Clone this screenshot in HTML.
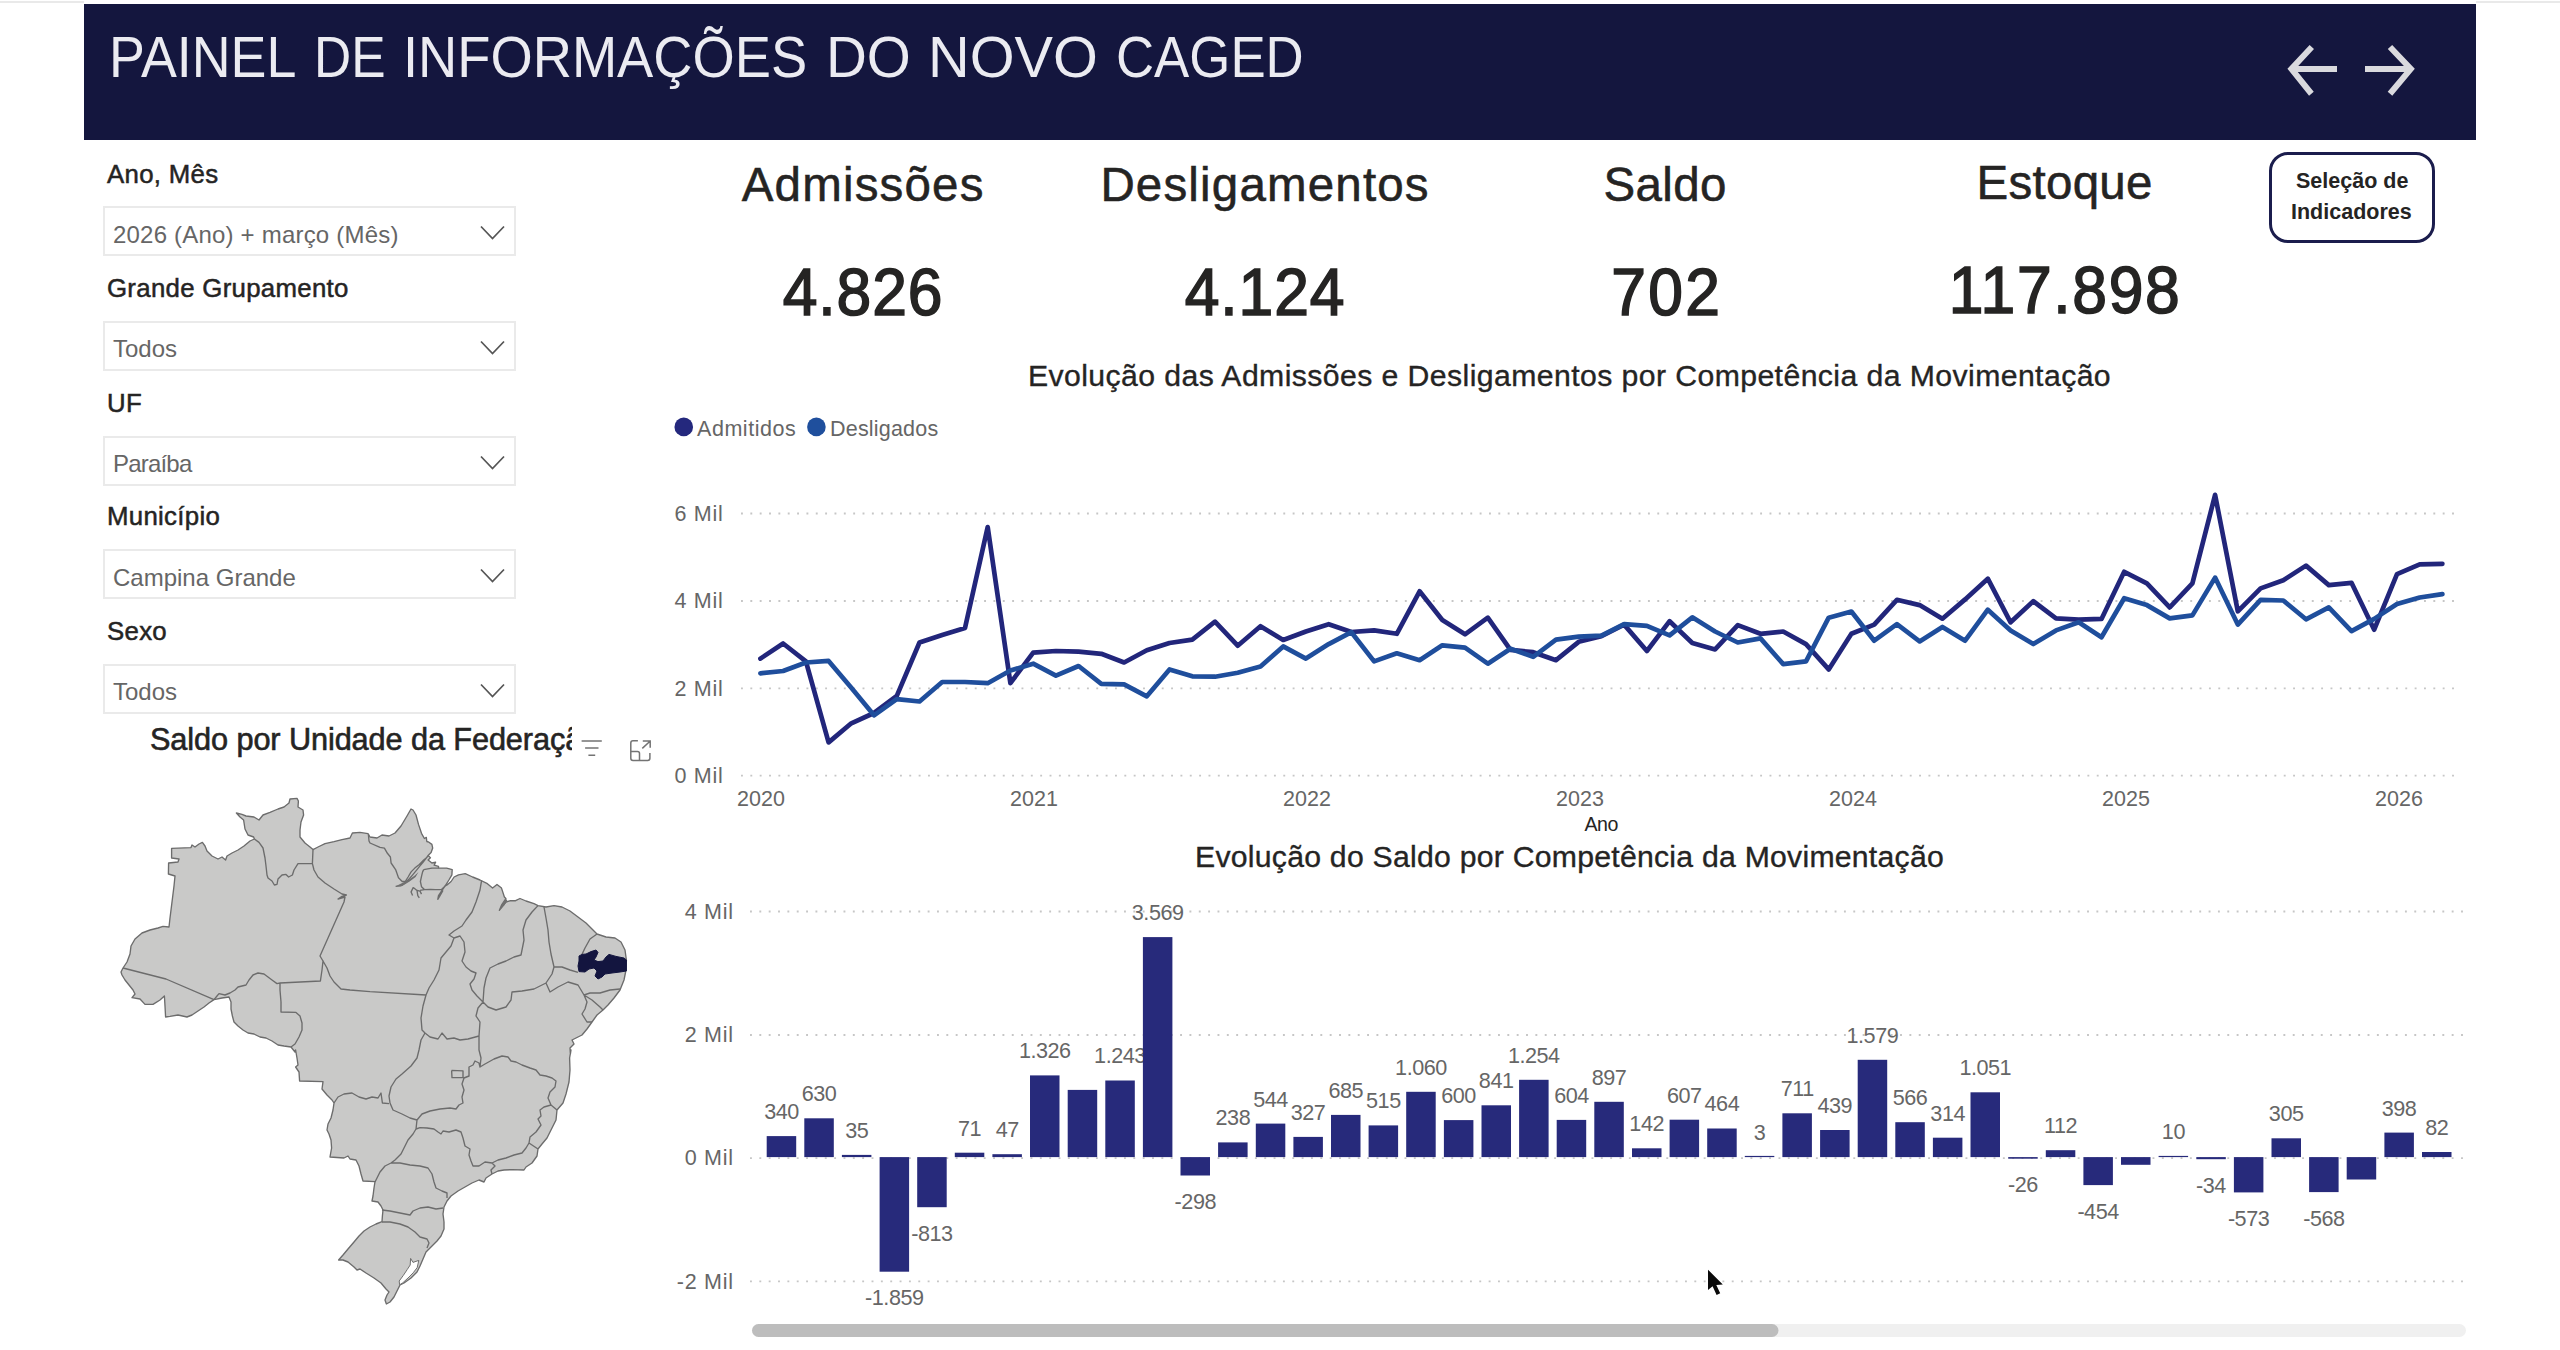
<!DOCTYPE html>
<html lang="pt-BR"><head><meta charset="utf-8"><title>Painel de Informações do Novo CAGED</title>
<style>
html,body{margin:0;padding:0;background:#fff;}
body{width:2560px;height:1350px;position:relative;overflow:hidden;font-family:"Liberation Sans",sans-serif;}
.t{position:absolute;white-space:nowrap;line-height:1;}
.din{letter-spacing:0;}
.abs{position:absolute;}
.dd{position:absolute;left:103px;width:409px;height:46px;border:2px solid #eaeaea;background:#fff;}
svg{position:absolute;left:0;top:0;overflow:visible;}
</style></head><body>

<div class="abs" style="left:0;top:1px;width:84px;height:2px;background:#e9e9e9"></div>
<div class="abs" style="left:2476px;top:1px;width:84px;height:2px;background:#e9e9e9"></div>
<div class="abs" style="left:84px;top:3.5px;width:2392px;height:136px;background:#14163e"></div>
<div class="hdrtxt">
<div class="t hdr" style="left:109.07px;top:29.43px;font-size:57.5px;color:#ebebf1;transform:scaleX(0.936);transform-origin:0 0;">PAINEL </div>
<div class="t hdr" style="left:313.52px;top:29.43px;font-size:57.5px;color:#ebebf1;transform:scaleX(0.8958);transform-origin:0 0;">DE </div>
<div class="t hdr" style="left:402.78px;top:29.43px;font-size:57.5px;color:#ebebf1;transform:scaleX(0.9442);transform-origin:0 0;">INFORMAÇÕES </div>
<div class="t hdr" style="left:826.08px;top:29.43px;font-size:57.5px;color:#ebebf1;transform:scaleX(0.9842);transform-origin:0 0;">DO </div>
<div class="t hdr" style="left:928.48px;top:29.43px;font-size:57.5px;color:#ebebf1;transform:scaleX(1.0031);transform-origin:0 0;">NOVO </div>
<div class="t hdr" style="left:1115.85px;top:29.43px;font-size:57.5px;color:#ebebf1;transform:scaleX(0.9181);transform-origin:0 0;">CAGED </div>
</div>
<svg width="2560" height="1350" viewBox="0 0 2560 1350">
<g fill="none" stroke="#dadade" stroke-width="6" stroke-linecap="butt" stroke-linejoin="miter">
<path d="M2337 68.9H2291.4M2311.8 47L2291.4 68.9L2311.4 93.75"/>
<path d="M2365 68.9H2410.8M2390 47L2410.8 68.9L2390 93.75"/>
</g></svg>
<div class="abs" style="left:2269px;top:152px;width:160px;height:85px;border:3px solid #1b1d4d;border-radius:19px;background:#fff"></div>
<div class="t btn1" style="left:2296px;top:170.80px;font-size:21.5px;color:#252423;font-weight:bold;">Seleção de</div>
<div class="t btn2" style="left:2291px;top:202.30px;font-size:21.5px;color:#252423;font-weight:bold;">Indicadores</div>
<div class="t din flab" style="left:107px;top:161.56px;font-size:25.8px;color:#252423;letter-spacing:0.3px;-webkit-text-stroke:0.5px #252423;">Ano, Mês</div>
<div class="t din flab" style="left:107px;top:275.86px;font-size:25.8px;color:#252423;letter-spacing:0.3px;-webkit-text-stroke:0.5px #252423;">Grande Grupamento</div>
<div class="t din flab" style="left:107px;top:390.86px;font-size:25.8px;color:#252423;letter-spacing:0.3px;-webkit-text-stroke:0.5px #252423;">UF</div>
<div class="t din flab" style="left:107px;top:503.76px;font-size:25.8px;color:#252423;letter-spacing:0.3px;-webkit-text-stroke:0.5px #252423;">Município</div>
<div class="t din flab" style="left:107px;top:619.46px;font-size:25.8px;color:#252423;letter-spacing:0.3px;-webkit-text-stroke:0.5px #252423;">Sexo</div>
<div class="dd" style="top:206px"></div>
<div class="t ddv" style="left:113px;top:222.78px;font-size:24px;color:#666666;letter-spacing:0.2px;">2026 (Ano) + março (Mês)</div>
<svg width="2560" height="1350"><path d="M481 226.5L492.5 238.5L504 226.5" fill="none" stroke="#555" stroke-width="1.7"/></svg>
<div class="dd" style="top:321px"></div>
<div class="t ddv" style="left:113px;top:337.28px;font-size:24px;color:#666666;">Todos</div>
<svg width="2560" height="1350"><path d="M481 341.5L492.5 353.5L504 341.5" fill="none" stroke="#555" stroke-width="1.7"/></svg>
<div class="dd" style="top:436px"></div>
<div class="t ddv" style="left:113px;top:452.38px;font-size:24px;color:#666666;letter-spacing:-0.8px;">Paraíba</div>
<svg width="2560" height="1350"><path d="M481 456.5L492.5 468.5L504 456.5" fill="none" stroke="#555" stroke-width="1.7"/></svg>
<div class="dd" style="top:549px"></div>
<div class="t ddv" style="left:113px;top:565.58px;font-size:24px;color:#666666;">Campina Grande</div>
<svg width="2560" height="1350"><path d="M481 569.5L492.5 581.5L504 569.5" fill="none" stroke="#555" stroke-width="1.7"/></svg>
<div class="dd" style="top:664px"></div>
<div class="t ddv" style="left:113px;top:680.08px;font-size:24px;color:#666666;">Todos</div>
<svg width="2560" height="1350"><path d="M481 684.5L492.5 696.5L504 684.5" fill="none" stroke="#555" stroke-width="1.7"/></svg>
<div class="t din kl" style="left:562.6px;width:600px;text-align:center;top:161.29px;font-size:47.5px;-webkit-text-stroke:0.55px #252423;letter-spacing:1.17px;padding-left:1.17px;box-sizing:border-box;color:#252423">Admissões</div>
<div class="t kv" style="left:562.6px;width:600px;text-align:center;top:259.43px;font-size:66px;color:#252423"><span style="display:inline-block;transform:scaleX(.945);letter-spacing:1px;margin-left:1px;-webkit-text-stroke:1.6px #252423">4.826</span></div>
<div class="t din kl" style="left:964.5px;width:600px;text-align:center;top:161.29px;font-size:47.5px;-webkit-text-stroke:0.55px #252423;letter-spacing:1.17px;padding-left:1.17px;box-sizing:border-box;color:#252423">Desligamentos</div>
<div class="t kv" style="left:964.5px;width:600px;text-align:center;top:259.43px;font-size:66px;color:#252423"><span style="display:inline-block;transform:scaleX(.945);letter-spacing:1px;margin-left:1px;-webkit-text-stroke:1.6px #252423">4.124</span></div>
<div class="t din kl" style="left:1365px;width:600px;text-align:center;top:161.29px;font-size:47.5px;-webkit-text-stroke:0.55px #252423;letter-spacing:0.37px;padding-left:0.37px;box-sizing:border-box;color:#252423">Saldo</div>
<div class="t kv" style="left:1365px;width:600px;text-align:center;top:259.43px;font-size:66px;color:#252423"><span style="display:inline-block;transform:scaleX(.945);letter-spacing:2.4px;margin-left:2.4px;-webkit-text-stroke:1.6px #252423">702</span></div>
<div class="t din kl" style="left:1764.5px;width:600px;text-align:center;top:159.29px;font-size:47.5px;-webkit-text-stroke:0.55px #252423;letter-spacing:0.28px;padding-left:0.28px;box-sizing:border-box;color:#252423">Estoque</div>
<div class="t kv" style="left:1764.5px;width:600px;text-align:center;top:257.43px;font-size:66px;color:#252423"><span style="display:inline-block;transform:scaleX(.945);letter-spacing:1.8px;margin-left:1.8px;-webkit-text-stroke:1.6px #252423">117.898</span></div>
<div class="t din ct1" style="left:869.5px;width:1400px;text-align:center;top:360.64px;font-size:30.2px;letter-spacing:0.42px;-webkit-text-stroke:0.35px #252423;color:#252423">Evolução das Admissões e Desligamentos por Competência da Movimentação</div>
<div class="t din ct2" style="left:1069.5px;width:1000px;text-align:center;top:841.54px;font-size:30.2px;letter-spacing:0.25px;-webkit-text-stroke:0.35px #252423;color:#252423">Evolução do Saldo por Competência da Movimentação</div>
<div class="t din mt" style="left:150px;width:422px;overflow:hidden;top:724.61px;height:40px;font-size:30.7px;-webkit-text-stroke:0.6px #252423;letter-spacing:-0.1px;color:#252423">Saldo por Unidade da Federação</div>
<svg width="2560" height="1350" viewBox="0 0 2560 1350" font-family="Liberation Sans, sans-serif">
<circle cx="683.75" cy="426.9" r="9.3" fill="#24287d"/><circle cx="816.4" cy="426.9" r="9.3" fill="#1f4f9d"/>
<text x="697" y="435.8" font-size="21.5" letter-spacing="0.55" fill="#666666">Admitidos</text><text x="830" y="435.8" font-size="21.5" letter-spacing="0.2" fill="#666666">Desligados</text>
<line x1="741" x2="2455" y1="513.5" y2="513.5" stroke="#c6c6c6" stroke-width="1.8" stroke-dasharray="1.9 7.45"/>
<text x="723.6" y="520.7" font-size="21.5" letter-spacing="0.75" fill="#666666" text-anchor="end">6 Mil</text>
<line x1="741" x2="2455" y1="601" y2="601" stroke="#c6c6c6" stroke-width="1.8" stroke-dasharray="1.9 7.45"/>
<text x="723.6" y="608.2" font-size="21.5" letter-spacing="0.75" fill="#666666" text-anchor="end">4 Mil</text>
<line x1="741" x2="2455" y1="688.3" y2="688.3" stroke="#c6c6c6" stroke-width="1.8" stroke-dasharray="1.9 7.45"/>
<text x="723.6" y="695.5" font-size="21.5" letter-spacing="0.75" fill="#666666" text-anchor="end">2 Mil</text>
<line x1="741" x2="2455" y1="775.6" y2="775.6" stroke="#c6c6c6" stroke-width="1.8" stroke-dasharray="1.9 7.45"/>
<text x="723.6" y="782.8000000000001" font-size="21.5" letter-spacing="0.75" fill="#666666" text-anchor="end">0 Mil</text>
<text x="761" y="805.7" font-size="21.5" fill="#666666" text-anchor="middle">2020</text>
<text x="1034" y="805.7" font-size="21.5" fill="#666666" text-anchor="middle">2021</text>
<text x="1307" y="805.7" font-size="21.5" fill="#666666" text-anchor="middle">2022</text>
<text x="1580" y="805.7" font-size="21.5" fill="#666666" text-anchor="middle">2023</text>
<text x="1853" y="805.7" font-size="21.5" fill="#666666" text-anchor="middle">2024</text>
<text x="2126" y="805.7" font-size="21.5" fill="#666666" text-anchor="middle">2025</text>
<text x="2399" y="805.7" font-size="21.5" fill="#666666" text-anchor="middle">2026</text>
<text x="1601.3" y="831" font-size="19.6" letter-spacing="-0.4" fill="#252423" text-anchor="middle">Ano</text>
<polyline points="760.4,658.6 783.1,643.5 805.9,661.4 828.6,742.4 851.3,723.3 874.0,713.0 896.8,695.8 919.5,642.5 942.2,635.0 965.0,628.1 987.7,527.1 1010.4,683.2 1033.2,652.6 1055.9,651.0 1078.6,651.7 1101.3,653.8 1124.1,662.5 1146.8,650.3 1169.5,643.0 1192.3,639.6 1215.0,621.6 1237.7,645.7 1260.5,626.2 1283.2,640.0 1305.9,631.5 1328.7,624.2 1351.4,632.0 1374.1,630.4 1396.8,633.8 1419.6,591.3 1442.3,620.0 1465.0,634.3 1487.8,617.7 1510.5,649.9 1533.2,652.2 1556.0,660.2 1578.7,641.8 1601.4,636.1 1624.1,624.6 1646.9,651.0 1669.6,621.2 1692.3,643.0 1715.1,649.4 1737.8,625.1 1760.5,633.8 1783.2,631.5 1806.0,644.1 1828.7,669.4 1851.4,633.8 1874.2,624.6 1896.9,599.8 1919.6,605.1 1942.4,618.7 1965.1,599.4 1987.8,578.7 2010.6,622.3 2033.3,601.2 2056.0,618.4 2078.7,619.6 2101.5,618.9 2124.2,571.8 2146.9,583.3 2169.7,607.4 2192.4,583.3 2215.1,494.9 2237.8,611.3 2260.6,588.4 2283.3,580.3 2306.0,565.6 2328.8,585.1 2351.5,582.8 2374.2,629.7 2397.0,574.1 2419.7,564.3 2442.4,563.8" fill="none" stroke="#22267b" stroke-width="4.7" stroke-linejoin="round" stroke-linecap="round"/>
<polyline points="760.4,673.3 783.1,671.0 805.9,662.5 828.6,660.9 851.3,687.8 874.0,715.3 896.8,699.2 919.5,701.5 942.2,682.0 965.0,682.0 987.7,683.2 1010.4,670.5 1033.2,663.7 1055.9,675.6 1078.6,666.0 1101.3,683.9 1124.1,684.3 1146.8,696.3 1169.5,669.4 1192.3,676.3 1215.0,676.7 1237.7,672.8 1260.5,666.6 1283.2,646.4 1305.9,658.6 1328.7,644.1 1351.4,632.2 1374.1,661.4 1396.8,653.3 1419.6,660.2 1442.3,645.3 1465.0,647.6 1487.8,663.7 1510.5,648.7 1533.2,656.8 1556.0,639.6 1578.7,636.6 1601.4,635.6 1624.1,624.2 1646.9,625.8 1669.6,635.4 1692.3,617.3 1715.1,631.5 1737.8,642.5 1760.5,638.4 1783.2,664.1 1806.0,661.4 1828.7,617.7 1851.4,611.5 1874.2,640.7 1896.9,624.2 1919.6,641.4 1942.4,626.9 1965.1,640.7 1987.8,609.7 2010.6,630.4 2033.3,644.1 2056.0,630.4 2078.7,622.3 2101.5,637.3 2124.2,598.2 2146.9,605.1 2169.7,618.4 2192.4,615.4 2215.1,577.6 2237.8,624.6 2260.6,599.8 2283.3,600.5 2306.0,619.3 2328.8,607.4 2351.5,631.1 2374.2,618.9 2397.0,604.0 2419.7,597.5 2442.4,594.1" fill="none" stroke="#1f4e9c" stroke-width="4.7" stroke-linejoin="round" stroke-linecap="round"/>
<line x1="750" x2="2464" y1="911.5" y2="911.5" stroke="#c6c6c6" stroke-width="1.8" stroke-dasharray="1.9 7.45"/>
<text x="733.8" y="918.7" font-size="21.5" letter-spacing="0.75" fill="#666666" text-anchor="end">4 Mil</text>
<line x1="750" x2="2464" y1="1035.0" y2="1035.0" stroke="#c6c6c6" stroke-width="1.8" stroke-dasharray="1.9 7.45"/>
<text x="733.8" y="1042.2" font-size="21.5" letter-spacing="0.75" fill="#666666" text-anchor="end">2 Mil</text>
<line x1="750" x2="2464" y1="1158.2" y2="1158.2" stroke="#c6c6c6" stroke-width="1.8" stroke-dasharray="1.9 7.45"/>
<text x="733.8" y="1165.4" font-size="21.5" letter-spacing="0.75" fill="#666666" text-anchor="end">0 Mil</text>
<line x1="750" x2="2464" y1="1281.4" y2="1281.4" stroke="#c6c6c6" stroke-width="1.8" stroke-dasharray="1.9 7.45"/>
<text x="733.8" y="1288.6000000000001" font-size="21.5" letter-spacing="0.75" fill="#666666" text-anchor="end">-2 Mil</text>
<text x="781.5" y="1119.0" font-size="21.6" letter-spacing="-0.45" fill="#666666" text-anchor="middle">340</text>
<text x="819.1" y="1101.2" font-size="21.6" letter-spacing="-0.45" fill="#666666" text-anchor="middle">630</text>
<text x="856.7" y="1137.8" font-size="21.6" letter-spacing="-0.45" fill="#666666" text-anchor="middle">35</text>
<text x="894.3" y="1305.1" font-size="21.6" letter-spacing="-0.45" fill="#666666" text-anchor="middle">-1.859</text>
<text x="931.9" y="1240.6" font-size="21.6" letter-spacing="-0.45" fill="#666666" text-anchor="middle">-813</text>
<text x="969.6" y="1135.6" font-size="21.6" letter-spacing="-0.45" fill="#666666" text-anchor="middle">71</text>
<text x="1007.2" y="1137.1" font-size="21.6" letter-spacing="-0.45" fill="#666666" text-anchor="middle">47</text>
<text x="1044.8" y="1058.3" font-size="21.6" letter-spacing="-0.45" fill="#666666" text-anchor="middle">1.326</text>
<text x="1120.0" y="1063.4" font-size="21.6" letter-spacing="-0.45" fill="#666666" text-anchor="middle">1.243</text>
<text x="1157.7" y="920.0" font-size="21.6" letter-spacing="-0.45" fill="#666666" text-anchor="middle">3.569</text>
<text x="1195.3" y="1208.9" font-size="21.6" letter-spacing="-0.45" fill="#666666" text-anchor="middle">-298</text>
<text x="1232.9" y="1125.3" font-size="21.6" letter-spacing="-0.45" fill="#666666" text-anchor="middle">238</text>
<text x="1270.5" y="1106.5" font-size="21.6" letter-spacing="-0.45" fill="#666666" text-anchor="middle">544</text>
<text x="1308.1" y="1119.8" font-size="21.6" letter-spacing="-0.45" fill="#666666" text-anchor="middle">327</text>
<text x="1345.8" y="1097.8" font-size="21.6" letter-spacing="-0.45" fill="#666666" text-anchor="middle">685</text>
<text x="1383.4" y="1108.3" font-size="21.6" letter-spacing="-0.45" fill="#666666" text-anchor="middle">515</text>
<text x="1421.0" y="1074.7" font-size="21.6" letter-spacing="-0.45" fill="#666666" text-anchor="middle">1.060</text>
<text x="1458.6" y="1103.0" font-size="21.6" letter-spacing="-0.45" fill="#666666" text-anchor="middle">600</text>
<text x="1496.2" y="1088.2" font-size="21.6" letter-spacing="-0.45" fill="#666666" text-anchor="middle">841</text>
<text x="1533.8" y="1062.7" font-size="21.6" letter-spacing="-0.45" fill="#666666" text-anchor="middle">1.254</text>
<text x="1571.5" y="1102.8" font-size="21.6" letter-spacing="-0.45" fill="#666666" text-anchor="middle">604</text>
<text x="1609.1" y="1084.7" font-size="21.6" letter-spacing="-0.45" fill="#666666" text-anchor="middle">897</text>
<text x="1646.7" y="1131.2" font-size="21.6" letter-spacing="-0.45" fill="#666666" text-anchor="middle">142</text>
<text x="1684.3" y="1102.6" font-size="21.6" letter-spacing="-0.45" fill="#666666" text-anchor="middle">607</text>
<text x="1721.9" y="1111.4" font-size="21.6" letter-spacing="-0.45" fill="#666666" text-anchor="middle">464</text>
<text x="1759.6" y="1139.8" font-size="21.6" letter-spacing="-0.45" fill="#666666" text-anchor="middle">3</text>
<text x="1797.2" y="1096.2" font-size="21.6" letter-spacing="-0.45" fill="#666666" text-anchor="middle">711</text>
<text x="1834.8" y="1112.9" font-size="21.6" letter-spacing="-0.45" fill="#666666" text-anchor="middle">439</text>
<text x="1872.4" y="1042.7" font-size="21.6" letter-spacing="-0.45" fill="#666666" text-anchor="middle">1.579</text>
<text x="1910.0" y="1105.1" font-size="21.6" letter-spacing="-0.45" fill="#666666" text-anchor="middle">566</text>
<text x="1947.7" y="1120.6" font-size="21.6" letter-spacing="-0.45" fill="#666666" text-anchor="middle">314</text>
<text x="1985.3" y="1075.2" font-size="21.6" letter-spacing="-0.45" fill="#666666" text-anchor="middle">1.051</text>
<text x="2022.9" y="1192.1" font-size="21.6" letter-spacing="-0.45" fill="#666666" text-anchor="middle">-26</text>
<text x="2060.5" y="1133.1" font-size="21.6" letter-spacing="-0.45" fill="#666666" text-anchor="middle">112</text>
<text x="2098.1" y="1218.5" font-size="21.6" letter-spacing="-0.45" fill="#666666" text-anchor="middle">-454</text>
<text x="2173.4" y="1139.4" font-size="21.6" letter-spacing="-0.45" fill="#666666" text-anchor="middle">10</text>
<text x="2211.0" y="1192.6" font-size="21.6" letter-spacing="-0.45" fill="#666666" text-anchor="middle">-34</text>
<text x="2248.6" y="1225.8" font-size="21.6" letter-spacing="-0.45" fill="#666666" text-anchor="middle">-573</text>
<text x="2286.2" y="1121.2" font-size="21.6" letter-spacing="-0.45" fill="#666666" text-anchor="middle">305</text>
<text x="2323.9" y="1225.5" font-size="21.6" letter-spacing="-0.45" fill="#666666" text-anchor="middle">-568</text>
<text x="2399.1" y="1115.5" font-size="21.6" letter-spacing="-0.45" fill="#666666" text-anchor="middle">398</text>
<text x="2436.7" y="1134.9" font-size="21.6" letter-spacing="-0.45" fill="#666666" text-anchor="middle">82</text>
<rect x="766.7" y="1136.1" width="29.5" height="21.0" fill="#272a7b"/>
<rect x="804.3" y="1118.3" width="29.5" height="38.8" fill="#272a7b"/>
<rect x="841.9" y="1154.9" width="29.5" height="2.2" fill="#272a7b"/>
<rect x="879.6" y="1157.1" width="29.5" height="114.6" fill="#272a7b"/>
<rect x="917.2" y="1157.1" width="29.5" height="50.1" fill="#272a7b"/>
<rect x="954.8" y="1152.7" width="29.5" height="4.4" fill="#272a7b"/>
<rect x="992.4" y="1154.2" width="29.5" height="2.9" fill="#272a7b"/>
<rect x="1030.0" y="1075.4" width="29.5" height="81.7" fill="#272a7b"/>
<rect x="1067.7" y="1089.9" width="29.5" height="67.2" fill="#272a7b"/>
<rect x="1105.3" y="1080.5" width="29.5" height="76.6" fill="#272a7b"/>
<rect x="1142.9" y="937.1" width="29.5" height="220.0" fill="#272a7b"/>
<rect x="1180.5" y="1157.1" width="29.5" height="18.4" fill="#272a7b"/>
<rect x="1218.1" y="1142.4" width="29.5" height="14.7" fill="#272a7b"/>
<rect x="1255.8" y="1123.6" width="29.5" height="33.5" fill="#272a7b"/>
<rect x="1293.4" y="1136.9" width="29.5" height="20.2" fill="#272a7b"/>
<rect x="1331.0" y="1114.9" width="29.5" height="42.2" fill="#272a7b"/>
<rect x="1368.6" y="1125.4" width="29.5" height="31.7" fill="#272a7b"/>
<rect x="1406.2" y="1091.8" width="29.5" height="65.3" fill="#272a7b"/>
<rect x="1443.9" y="1120.1" width="29.5" height="37.0" fill="#272a7b"/>
<rect x="1481.5" y="1105.3" width="29.5" height="51.8" fill="#272a7b"/>
<rect x="1519.1" y="1079.8" width="29.5" height="77.3" fill="#272a7b"/>
<rect x="1556.7" y="1119.9" width="29.5" height="37.2" fill="#272a7b"/>
<rect x="1594.3" y="1101.8" width="29.5" height="55.3" fill="#272a7b"/>
<rect x="1632.0" y="1148.3" width="29.5" height="8.8" fill="#272a7b"/>
<rect x="1669.6" y="1119.7" width="29.5" height="37.4" fill="#272a7b"/>
<rect x="1707.2" y="1128.5" width="29.5" height="28.6" fill="#272a7b"/>
<rect x="1744.8" y="1155.9" width="29.5" height="1.2" fill="#272a7b"/>
<rect x="1782.4" y="1113.3" width="29.5" height="43.8" fill="#272a7b"/>
<rect x="1820.1" y="1130.0" width="29.5" height="27.1" fill="#272a7b"/>
<rect x="1857.7" y="1059.8" width="29.5" height="97.3" fill="#272a7b"/>
<rect x="1895.3" y="1122.2" width="29.5" height="34.9" fill="#272a7b"/>
<rect x="1932.9" y="1137.7" width="29.5" height="19.4" fill="#272a7b"/>
<rect x="1970.5" y="1092.3" width="29.5" height="64.8" fill="#272a7b"/>
<rect x="2008.2" y="1157.1" width="29.5" height="1.6" fill="#272a7b"/>
<rect x="2045.8" y="1150.2" width="29.5" height="6.9" fill="#272a7b"/>
<rect x="2083.4" y="1157.1" width="29.5" height="28.0" fill="#272a7b"/>
<rect x="2121.0" y="1157.1" width="29.5" height="7.7" fill="#272a7b"/>
<rect x="2158.6" y="1155.9" width="29.5" height="1.2" fill="#272a7b"/>
<rect x="2196.3" y="1157.1" width="29.5" height="2.1" fill="#272a7b"/>
<rect x="2233.9" y="1157.1" width="29.5" height="35.3" fill="#272a7b"/>
<rect x="2271.5" y="1138.3" width="29.5" height="18.8" fill="#272a7b"/>
<rect x="2309.1" y="1157.1" width="29.5" height="35.0" fill="#272a7b"/>
<rect x="2346.7" y="1157.1" width="29.5" height="22.4" fill="#272a7b"/>
<rect x="2384.4" y="1132.6" width="29.5" height="24.5" fill="#272a7b"/>
<rect x="2422.0" y="1152.0" width="29.5" height="5.1" fill="#272a7b"/>
<rect x="752" y="1324" width="1714" height="13" rx="6.5" fill="#f0f0f0"/><rect x="752" y="1324" width="1026.5" height="13" rx="6.5" fill="#bdbdbd"/>
<path d="M1708 1269.7 L1708 1290 L1712.6 1286.2 L1716.6 1295 L1720.2 1293.3 L1716.3 1284.9 L1722.8 1284.5 Z" fill="#0a0a0a" stroke="#fff" stroke-width="1.4" stroke-linejoin="round" paint-order="stroke"/>
<g stroke="#737373" stroke-width="1.5" fill="none"><path d="M581.6 741.1H601.8M585.1 748.1H598.5M588.4 755.2H595.2"/><path d="M637.9 740.7H633a2.2 2.2 0 0 0-2.2 2.2V758.2a2.2 2.2 0 0 0 2.2 2.2H647.7a2.2 2.2 0 0 0 2.2-2.2V753M630.8 751.4H637.5a2 2 0 0 1 2 2V760.4M642.8 741H650.2V747.8M650 741.2L642.3 748.4"/></g>
</svg>
<svg width="2560" height="1350" viewBox="0 0 2560 1350">
<path d="M121.0 972.0 L123.0 968.0 L127.0 962.0 L130.0 954.0 L131.0 946.0 L135.0 939.0 L142.0 933.0 L150.0 930.0 L158.0 928.0 L163.0 926.4 L169.0 927.0 L170.0 918.0 L172.0 902.0 L174.0 886.0 L175.0 876.0 L168.4 874.0 L168.6 863.0 L178.0 862.0 L179.0 859.0 L171.6 858.0 L171.6 848.4 L191.0 847.6 L192.0 845.0 L195.0 847.0 L199.0 844.0 L202.4 842.4 L205.0 846.0 L207.0 851.0 L212.0 856.0 L218.0 859.0 L222.0 857.0 L225.6 860.0 L227.0 856.0 L232.0 853.0 L238.0 850.0 L244.0 846.0 L250.0 841.0 L254.4 839.0 L253.6 837.0 L248.0 835.0 L245.0 829.0 L243.6 820.0 L240.0 817.0 L236.4 813.0 L242.0 814.4 L246.0 816.0 L254.0 817.0 L259.0 820.0 L263.0 815.0 L270.0 812.4 L278.0 809.0 L284.0 807.0 L289.0 803.0 L290.0 799.0 L297.0 798.4 L298.4 801.0 L298.0 807.0 L303.0 810.0 L303.6 815.0 L301.0 822.0 L300.0 830.0 L300.0 837.0 L305.0 843.0 L310.0 847.0 L313.0 849.6 L318.0 847.0 L325.0 843.6 L334.0 841.6 L342.0 839.6 L350.0 838.0 L352.4 833.0 L360.0 832.4 L368.0 833.6 L370.0 837.0 L377.0 838.0 L382.0 835.0 L389.0 836.0 L395.0 833.0 L401.0 826.0 L407.0 816.0 L411.0 809.0 L413.0 810.0 L416.0 815.0 L418.5 824.4 L421.5 833.3 L424.4 838.5 L426.3 837.4 L426.8 841.5 L428.9 842.2 L431.9 844.4 L432.7 848.1 L431.1 852.6 L428.1 855.6 L430.4 857.8 L428.1 860.0 L431.9 863.0 L435.6 862.2 L434.1 865.2 L438.5 866.3 L438.5 868.1 L446.7 868.1 L452.2 869.6 L451.9 874.8 L448.9 880.0 L445.2 885.9 L446.7 885.2 L451.1 881.5 L454.1 877.0 L458.5 874.8 L465.2 873.7 L472.6 877.0 L480.0 880.0 L487.4 883.7 L492.6 888.1 L497.0 884.4 L501.5 888.1 L504.4 897.0 L505.9 898.5 L501.5 905.2 L499.3 910.4 L505.9 902.2 L510.4 900.7 L515.6 900.7 L520.0 898.5 L526.0 901.0 L534.0 903.6 L538.0 905.6 L546.0 907.0 L554.0 905.6 L562.0 907.0 L570.0 911.0 L578.0 917.0 L586.0 923.0 L592.0 929.0 L597.0 934.0 L606.0 937.0 L615.0 938.0 L621.0 942.0 L625.0 950.0 L626.4 960.0 L626.0 970.0 L624.0 980.0 L620.0 990.0 L614.0 998.0 L608.0 1005.0 L603.0 1010.0 L597.0 1015.0 L592.0 1022.0 L587.0 1029.0 L582.0 1035.0 L576.0 1038.0 L572.0 1040.0 L574.0 1044.0 L570.0 1048.0 L570.4 1054.0 L571.0 1050.0 L569.6 1058.0 L570.0 1070.0 L569.0 1082.0 L566.0 1094.0 L563.0 1103.0 L557.0 1110.0 L556.0 1120.0 L551.0 1130.0 L547.0 1138.0 L542.0 1144.0 L538.0 1149.0 L537.0 1156.0 L532.0 1163.0 L526.0 1167.0 L524.0 1170.0 L512.0 1169.6 L504.0 1170.0 L498.0 1171.0 L492.0 1174.0 L486.0 1178.0 L484.0 1182.0 L479.0 1180.0 L472.0 1183.0 L465.0 1187.0 L458.0 1191.0 L451.0 1196.0 L447.0 1201.0 L444.0 1207.0 L443.0 1214.0 L444.0 1222.0 L444.0 1229.0 L441.0 1236.0 L437.0 1241.0 L431.0 1247.0 L426.0 1252.0 L423.0 1259.0 L420.0 1266.0 L417.0 1272.0 L411.0 1278.0 L404.0 1283.0 L400.0 1285.0 L397.0 1291.0 L394.0 1297.0 L390.0 1302.0 L386.4 1304.0 L385.0 1300.0 L387.0 1295.0 L389.0 1292.0 L386.0 1289.0 L381.0 1283.0 L374.0 1278.0 L366.0 1273.0 L360.0 1269.0 L357.0 1270.0 L354.0 1267.0 L348.0 1262.0 L343.0 1260.0 L338.6 1260.0 L343.0 1255.0 L348.0 1249.0 L354.0 1242.0 L359.0 1236.0 L364.0 1231.0 L370.0 1227.0 L376.0 1224.0 L382.0 1221.6 L382.4 1216.0 L383.0 1210.0 L381.0 1206.0 L378.0 1202.0 L372.0 1201.0 L373.0 1196.0 L374.0 1188.0 L375.0 1181.6 L363.0 1181.0 L361.0 1174.0 L359.0 1166.0 L356.0 1160.0 L350.0 1159.0 L348.0 1156.0 L344.0 1158.0 L330.0 1157.0 L331.6 1148.0 L331.0 1140.0 L329.0 1134.0 L327.0 1130.0 L328.0 1124.0 L331.0 1118.0 L333.0 1110.0 L334.0 1103.0 L332.0 1100.0 L327.0 1095.0 L322.0 1089.0 L323.0 1081.6 L299.6 1081.0 L299.0 1072.0 L295.6 1067.0 L298.0 1065.0 L297.0 1058.0 L295.6 1050.0 L295.0 1052.0 L291.0 1047.0 L284.0 1046.0 L278.0 1045.0 L272.0 1041.0 L266.0 1038.0 L260.0 1037.0 L254.0 1034.0 L248.0 1033.0 L243.0 1030.0 L238.0 1026.0 L234.0 1022.0 L232.4 1016.0 L231.0 1009.0 L231.0 1002.0 L229.0 997.0 L222.0 998.0 L214.0 999.6 L209.0 1003.0 L204.0 1007.0 L198.0 1011.0 L192.0 1015.0 L187.0 1017.0 L178.0 1015.0 L170.0 1016.4 L165.6 1017.0 L165.0 1006.0 L164.4 996.0 L160.0 1000.0 L153.0 1004.4 L145.0 1004.4 L140.0 999.0 L132.0 997.6 L135.0 994.0 L133.0 990.0 L129.0 985.0 L125.0 980.0 L122.0 975.0Z" fill="#c9c9c8" stroke="#6c6c6c" stroke-width="1.35" stroke-linejoin="round"/>
<path d="M410.6 1258.4 L413.0 1262.4 L418.8 1260.4 L417.2 1267.6 L413.2 1272.8 L408.0 1278.0 L402.8 1282.8 L399.6 1284.8 L399.2 1281.0 L403.2 1275.6 L407.2 1269.6 L410.2 1265.0Z" fill="#fff" stroke="#707070" stroke-width="1"/>
<path d="M123.0 968.0 L166.0 979.0 L214.0 999.6 M254.4 839.0 L259.0 842.4 L263.0 848.0 L265.0 858.0 L266.0 866.0 L267.0 875.0 L268.0 878.0 L272.0 881.0 L274.4 885.0 L277.0 884.4 L278.0 879.0 L282.0 875.0 L286.0 874.4 L288.6 877.0 L292.4 875.0 L294.0 870.0 L298.0 863.6 L312.4 863.6 M313.0 849.6 L312.4 863.6 L314.0 870.0 L318.0 877.0 L325.0 883.0 L334.0 889.0 L342.0 894.0 L346.4 895.0 L342.0 896.4 L338.0 899.0 L345.0 897.0 L344.0 902.0 L336.0 920.0 L328.0 938.0 L320.0 956.0 L323.0 961.0 L322.0 970.0 L320.4 981.0 L280.0 983.0 M280.0 983.0 L277.0 983.6 L272.0 980.0 L268.0 977.0 L264.0 974.0 L258.0 973.0 L253.0 975.0 L249.0 980.0 L246.0 985.0 L238.0 987.0 L235.0 990.0 L230.0 993.0 L225.0 995.0 L219.0 993.6 L217.0 996.0 L214.0 999.6 M280.0 983.0 L280.0 990.0 L281.0 1002.0 L281.0 1012.0 L296.0 1012.4 L300.0 1016.0 L302.0 1023.0 L302.0 1030.0 L299.0 1037.0 L295.0 1044.0 L291.0 1047.0 M323.0 961.0 L327.0 968.0 L330.0 976.0 L334.0 982.0 L341.0 989.0 L350.0 990.0 L370.0 991.6 M370.0 991.6 L426.0 995.0 M368.4 834.4 L369.0 841.0 L370.0 843.0 L380.0 847.4 L384.4 848.1 L387.4 853.3 L390.4 857.0 L391.1 863.0 L395.6 869.6 L398.5 877.8 L402.2 881.5 L405.2 881.5 L408.1 877.0 L411.1 871.9 M395.6 886.3 L400.7 885.9 L405.2 883.0 L409.6 878.5 L413.3 874.1 L417.0 869.6 L420.0 865.9 L423.0 862.2 L425.9 858.5 L428.1 855.6 M411.1 871.9 L414.8 868.1 L419.3 864.4 L423.7 860.0 L427.4 857.0 M423.7 869.6 L422.6 871.9 L421.5 876.3 L420.4 881.5 L421.5 886.7 L424.4 889.6 L430.4 889.3 L435.6 889.6 L441.5 889.6 L445.2 885.9 M423.7 869.6 L431.9 868.1 L438.5 868.1 M413.3 887.4 L411.1 891.9 L412.6 895.6 M413.3 887.4 L417.0 890.4 L417.8 895.6 L419.3 897.8 M417.0 890.4 L420.0 891.1 L421.5 894.1 M420.0 890.4 L424.4 889.6 M445.2 885.9 L441.5 891.1 L438.5 895.6 L437.8 899.3 L439.3 897.0 L443.0 890.4 M481.6 880.4 L480.0 890.0 L476.0 902.0 L472.0 912.0 L466.0 920.0 L462.0 926.0 L454.0 931.0 L449.0 935.0 L454.0 938.0 M454.0 938.0 L451.0 946.0 L446.0 952.0 L441.0 958.0 L439.0 970.0 L434.0 980.0 L429.0 988.0 L426.0 995.0 M426.0 995.0 L423.0 1006.0 L421.0 1018.0 L422.0 1030.0 L425.0 1033.0 M425.0 1033.0 L430.0 1037.0 L438.0 1039.0 L442.0 1033.0 L447.0 1039.0 L454.0 1038.0 L460.0 1040.0 L468.0 1039.0 L479.0 1036.0 M454.0 938.0 L460.0 936.0 L464.0 942.0 L465.0 952.0 L462.0 961.0 L466.0 967.0 L471.0 971.0 L476.0 973.0 L474.0 979.0 L470.0 984.0 L472.0 990.0 L477.0 996.0 L483.0 1002.0 M538.0 905.6 L532.0 912.0 L526.0 920.0 L523.0 930.0 L524.0 940.0 L522.0 950.0 L521.0 955.0 L514.0 957.0 L506.0 961.0 L498.0 964.0 L490.0 968.0 L486.0 978.0 L484.0 988.0 L483.0 1002.0 M483.0 1002.0 L478.0 1008.0 L476.0 1016.0 L480.0 1022.0 L479.0 1036.0 M483.0 1002.0 L488.0 1007.0 L496.0 1010.0 L506.0 1007.0 L511.0 1000.0 L512.0 992.0 L522.0 991.0 L534.0 989.0 L542.0 985.0 L546.0 983.0 M544.0 907.0 L546.0 918.0 L548.0 930.0 L549.0 942.0 L551.0 954.0 L554.0 967.0 L552.0 974.0 L546.0 983.0 M554.0 967.0 L562.0 967.0 L570.0 970.0 L578.0 972.4 M597.0 934.0 L590.0 939.0 L585.0 948.0 L582.0 954.4 M546.0 983.0 L550.0 992.0 L558.0 987.0 L568.0 982.0 L578.0 985.0 L584.0 995.0 M584.0 995.0 L590.0 993.0 L600.0 993.0 L610.0 990.0 L620.0 989.0 M584.0 995.0 L592.0 1000.0 L600.0 1007.0 L603.0 1010.0 M584.0 995.0 L587.0 1002.0 L585.0 1009.0 L582.0 1014.0 L587.0 1022.0 L592.0 1022.0 M416.0 1129.0 L417.0 1120.0 L422.0 1114.0 L430.0 1111.0 L440.0 1109.0 L450.0 1108.0 L456.0 1109.0 L459.0 1105.0 L463.0 1103.0 L462.0 1097.0 L464.0 1090.0 L462.0 1084.0 L464.0 1078.0 L469.0 1076.0 L469.0 1067.0 L473.0 1065.0 L475.0 1061.0 L479.0 1063.0 L480.0 1067.0 L485.0 1064.0 L494.0 1059.0 L502.0 1056.0 L508.0 1057.0 L511.0 1061.0 L516.0 1062.0 L522.0 1065.0 L530.0 1068.0 L536.0 1070.0 L540.0 1075.0 L546.0 1076.0 L552.0 1078.0 L556.0 1081.0 L555.0 1087.0 L550.0 1092.0 L548.0 1098.0 L551.0 1105.0 L544.0 1107.0 L540.0 1110.0 L541.0 1116.0 L538.0 1119.0 L541.0 1125.0 L536.0 1132.0 L530.0 1137.0 L529.0 1143.0 L526.0 1148.0 L522.0 1153.0 L514.0 1155.0 L506.0 1158.0 L498.0 1160.0 L492.0 1163.0 L485.0 1162.0 L479.0 1166.0 L473.0 1166.0 L471.0 1161.0 L469.0 1155.0 L470.0 1149.0 L465.0 1146.0 L463.0 1138.0 L461.0 1132.0 L456.0 1130.0 L449.0 1132.0 L443.0 1131.0 L441.0 1134.0 L438.0 1132.0 L434.0 1129.0 L427.0 1128.0 L420.0 1127.6 L416.0 1129.0 M451.6 1070.4 L463.0 1070.8 L463.0 1077.6 L452.0 1077.6 L451.6 1070.4 M425.0 1033.0 L421.0 1040.0 L419.0 1050.0 L417.0 1058.0 L411.0 1066.0 L402.0 1074.0 L396.0 1079.0 L391.0 1087.0 L389.0 1096.0 L390.0 1103.0 L393.0 1110.0 L402.0 1114.0 L410.0 1118.0 L417.0 1120.0 M480.0 1067.0 L481.0 1058.0 L479.0 1050.0 L479.0 1036.0 M551.0 1105.0 L557.0 1110.0 M529.0 1143.0 L538.0 1149.0 M492.0 1163.0 L495.0 1166.0 L491.0 1170.0 L492.0 1174.0 M416.0 1129.0 L413.0 1134.0 L408.0 1140.0 L404.0 1148.0 L401.0 1154.0 L395.0 1160.0 L391.0 1163.0 M391.0 1163.0 L400.0 1163.0 L410.0 1165.0 L420.0 1166.0 L428.0 1168.0 L432.0 1174.0 L434.0 1182.0 L436.0 1188.0 L442.0 1191.0 L447.0 1193.0 L447.0 1198.0 M391.0 1163.0 L385.0 1166.0 L380.0 1172.0 L377.0 1178.0 L375.0 1182.0 M382.0 1210.0 L390.0 1211.0 L400.0 1213.0 L410.0 1215.0 L413.0 1211.0 L420.0 1208.0 L428.0 1207.0 L436.0 1209.0 L443.0 1208.0 M382.0 1222.0 L390.0 1222.0 L400.0 1224.0 L408.0 1227.0 L415.0 1232.0 L420.0 1237.0 L427.0 1239.0 L429.0 1243.0 L427.0 1248.0 M334.0 1103.0 L338.0 1097.0 L344.0 1094.0 L352.0 1093.0 L359.0 1097.0 L366.0 1099.0 L372.0 1097.0 L378.0 1098.0 L381.0 1093.0 L382.4 1103.0 L389.0 1103.6" fill="none" stroke="#6c6c6c" stroke-width="1.35" stroke-linejoin="round"/>
<path d="M395.6 886.3 L402.2 883.0 L409.6 879.3 L414.8 875.6 L418.5 871.9 L415.6 877.0 L409.6 881.5 L402.2 885.9Z M499.3 910.4 L501.5 905.2 L505.9 898.5 L507.4 900.7 L504.4 905.2Z" fill="#707070" stroke="none"/>
<path d="M579.0 956.0 L582.0 954.4 L586.0 954.0 L591.0 951.6 L596.0 950.0 L598.0 952.4 L596.0 957.0 L594.0 960.0 L598.0 961.6 L603.0 961.0 L606.0 957.0 L609.0 954.4 L616.0 956.4 L624.0 958.0 L626.4 960.0 L626.4 971.0 L620.0 972.0 L612.0 973.0 L605.0 974.0 L602.0 977.0 L598.0 979.0 L595.0 976.0 L597.0 971.0 L594.0 968.0 L589.0 969.0 L585.0 972.0 L579.0 971.6 L578.0 966.0 L579.0 961.0Z" fill="#13153f" stroke="#13153f" stroke-width="1"/>
</svg>
</body></html>
